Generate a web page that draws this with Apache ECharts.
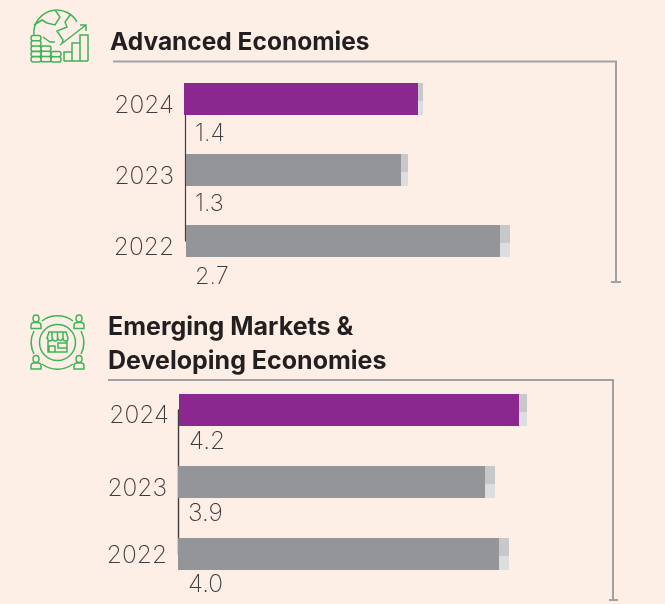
<!DOCTYPE html>
<html><head><meta charset="utf-8">
<style>html,body{margin:0;padding:0;background:#fdeee6}#c{width:665px;height:604px}</style>
<script src="https://cdn.jsdelivr.net/npm/echarts@6/dist/echarts.min.js"></script>
</head><body><div id="c"></div>
<script>
const years = ['2024','2023','2022'];
const advLabels = ['1.4','1.3','2.7'];
const advOffset = [0,2,2];
const advBars = [234,215,314];
const advExt = [5,7,10];
const emLabels = ['4.2','3.9','4.0'];
const emOffset = [1,0,0];
const emBars = [340,307,321];
const emExt = [8,10,10];

const PURPLE='#8a288f', GREY='#939598', GREEN='#3fb558', LINE='#a0a1a5', INK='#3f3d3e';
const FONT='Inter';
const chart = echarts.init(document.getElementById('c'), null, {renderer:'canvas'});
const extColor = {type:'linear',x:0,y:0,x2:0,y2:1,colorStops:[
  {offset:0,color:'#c6c8ca'},{offset:0.5625,color:'#c6c8ca'},{offset:0.5625,color:'#dcdddf'},{offset:1,color:'#dcdddf'}]};

function panel(idx, labels, offs, bars, ext, labelPos, size){
  return [
    {type:'bar',xAxisIndex:idx,yAxisIndex:idx,stack:'s'+idx,barWidth:32,silent:true,
      itemStyle:{color:'transparent'},data:offs},
    {type:'bar',xAxisIndex:idx,yAxisIndex:idx,stack:'s'+idx,barWidth:32,silent:true,
      data:bars.map((v,i)=>({value:v,itemStyle:{color:i===0?PURPLE:GREY},
        label:{show:true,formatter:labels[i],position:labelPos[i],color:INK,fontFamily:FONT,fontWeight:200,fontSize:size,align:'left',verticalAlign:'middle'}}))},
    {type:'bar',xAxisIndex:idx,yAxisIndex:idx,stack:'s'+idx,barWidth:32,silent:true,
      itemStyle:{color:extColor},data:ext}
  ];
}
function yearStyle(pr,pt){return {color:INK,fontFamily:FONT,fontWeight:200,fontSize:24.5,padding:[pt,pr,0,0]};}

const bracket=(x0,y0,x1,y1)=>({type:'polyline',silent:true,shape:{points:[[x0,y0],[x1,y0],[x1,y1]]},style:{stroke:LINE,lineWidth:2,fill:'none'}});
const foot=(x0,x1,y)=>({type:'line',silent:true,shape:{x1:x0,y1:y,x2:x1,y2:y},style:{stroke:LINE,lineWidth:2}});
const coin=(x,y,w)=>`M${x+2} ${y}h${w-4}a2 2.6 0 0 1 0 5.2h${4-w}a2 2.6 0 0 1 0 -5.2z`;
const stack=(x,top,n,w)=>Array.from({length:n},(_,i)=>coin(x,top+i*5.3,w)).join('');
const person=(x,y)=>`M${x-3} ${y-5}a3 3.5 0 1 1 6 0a3 3.5 0 1 1 -6 0zM${x-5} ${y+5}v-3a3 3 0 0 1 3 -3h4a3 3 0 0 1 3 3v3z`;

const advIcon = [
  'M34 36A23 23 0 0 1 77 22',
  'M34 25L42 20L47 23L55 25L60 17L55 10',
  'M70 15L65 22L67 27L57 31L63 40L62 43',
  'M43 37L50 42L55 42',
  'M60 45L86 25M80 25H86V31',
  stack(31,35.5,5,10),stack(41,46,3,10),stack(51,51.5,2,10),
  'M64 61V52H72V61M72 61V43H80V61M80 61V35H88V61M64 61H88'
].join('');
const cx=57.5, cy=342.5;
const emIcon = [
  'M42 321A25.5 25.5 0 0 1 73 321M42 364A25.5 25.5 0 0 0 73 364M34 331A25.5 25.5 0 0 0 34 354M81 331A25.5 25.5 0 0 1 81 354',
  `M${cx+18} ${cy}A18 18 0 1 1 ${cx-18} ${cy}A18 18 0 1 1 ${cx+18} ${cy}z`,
  'M47 338L49 332H66L68 338a2.5 3 0 0 1 -5 0a2.7 3 0 0 1 -5.3 0a2.6 3 0 0 1 -5.2 0a2.5 3 0 0 1 -5 0z',
  'M52 332V338M57.5 332V338M63 332V338',
  'M48 341V352H67V341M49 352V346H55V352M58 343H67V348H58z',
  person(36,323.5),person(79,323.5),person(36,364),person(79,364)
].join('');
echarts.graphic.registerShape('advIcon', echarts.graphic.extendPath(advIcon,{}));
echarts.graphic.registerShape('emIcon', echarts.graphic.extendPath(emIcon,{}));
const icon=(name)=>({type:name,silent:true,shape:{},style:{fill:'none',stroke:GREEN,lineWidth:1.5}});

chart.setOption({
  backgroundColor:'#fdeee6',
  animation:false,
  title:[
    {text:'Advanced Economies',left:110,top:30,textStyle:{fontFamily:FONT,fontWeight:700,fontSize:24.5,color:'#231f20'},padding:0},
    {text:'Emerging Markets &\nDeveloping Economies',left:108,top:310,textStyle:{fontFamily:FONT,fontWeight:700,fontSize:25,lineHeight:34,color:'#231f20'},padding:0}
  ],
  grid:[
    {left:184,top:99,width:440,height:142},
    {left:178,top:410,width:440,height:144}
  ],
  xAxis:[0,1].map(i=>({type:'value',gridIndex:i,min:0,max:440,show:false})),
  yAxis:[
    {type:'category',gridIndex:0,inverse:true,boundaryGap:false,data:years,offset:-1,
      axisLine:{show:true,symbol:['none','rect'],symbolSize:[1,12],lineStyle:{color:'#3f3d3e',width:1.2}},axisTick:{show:false},
      axisLabel:{margin:11,formatter:v=>`{y|${v}}`,rich:{y:yearStyle(0,14)},interval:0,showMinLabel:true,showMaxLabel:true,hideOverlap:false}},
    {type:'category',gridIndex:1,inverse:true,boundaryGap:false,data:years,
      axisLine:{show:true,symbol:'none',lineStyle:{color:'#3f3d3e',width:1.4}},axisTick:{show:false},
      axisLabel:{margin:9,formatter:v=>v==='2024'?`{a|${v}}`:v==='2023'?`{b|${v}}`:`{c|${v}}`,
        rich:{a:yearStyle(0,12),b:yearStyle(2,14),c:yearStyle(2,4)},interval:0,showMinLabel:true,showMaxLabel:true,hideOverlap:false}}
  ],
  series:[
    ...panel(0,advLabels,advOffset,advBars,advExt,[[11,51],[9,50],[9,52]],23.5),
    ...panel(1,emLabels,emOffset,emBars,emExt,[[10,48],[10,48],[10,47]],24.5)
  ],
  graphic:[
    bracket(113,61.5,616,282),foot(611,621,282),
    bracket(108,380,613,600),foot(609,618,600),
    icon('advIcon'),icon('emIcon')
  ]
});
</script></body></html>
